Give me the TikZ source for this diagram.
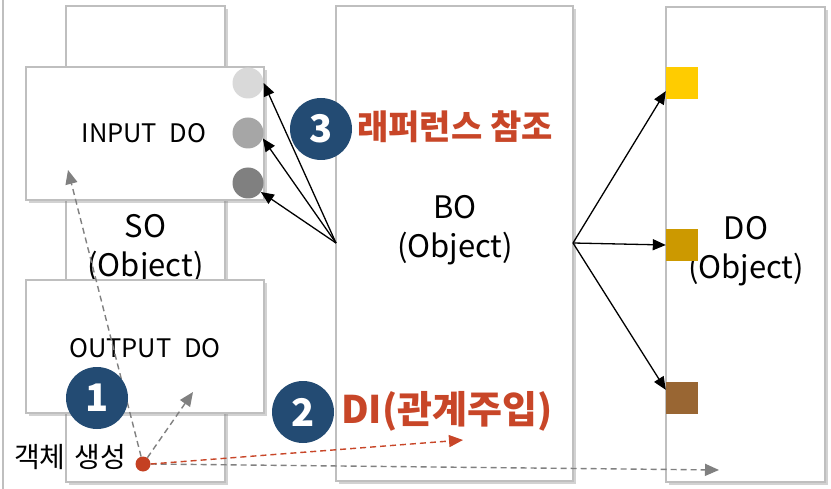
\documentclass[tikz,border=0pt]{standalone}
\usepackage{fontspec}
\setmainfont{Noto Sans CJK KR}
\usetikzlibrary{shadows,arrows.meta,calc}
\definecolor{boxline}{RGB}{191,191,191}
\definecolor{badgeblue}{RGB}{35,75,115}
\definecolor{accentred}{RGB}{200,70,40}
\definecolor{dotred}{RGB}{196,64,34}
\definecolor{dashgray}{RGB}{128,128,128}
\definecolor{portA}{RGB}{217,217,217}
\definecolor{portB}{RGB}{166,166,166}
\definecolor{portC}{RGB}{128,128,128}
\definecolor{sqA}{RGB}{255,204,0}
\definecolor{sqB}{RGB}{204,153,0}
\definecolor{sqC}{RGB}{153,102,51}
\tikzset{
  objbox/.style={draw=boxline, line width=2bp, fill=white,
    drop shadow={opacity=0.35, shadow xshift=3bp, shadow yshift=-3bp}},
  port/.style={circle, inner sep=0pt, minimum size=31bp},
  slot/.style={rectangle, inner sep=0pt, minimum size=32bp},
  badge/.style={circle, fill=badgeblue, inner sep=0pt, minimum size=62bp,
    text=white, font=\fontsize{38bp}{40bp}\selectfont\bfseries},
  refarrow/.style={line width=1.3bp, -{Triangle[length=13bp,width=11bp]}},
  dasharrow/.style={dashgray, line width=1.4bp, dash pattern=on 6bp off 4bp,
    -{Triangle[length=14bp,width=12bp]}},
  reddash/.style={accentred, line width=1.4bp, dash pattern=on 6bp off 4bp,
    -{Triangle[length=14bp,width=12bp]}},
  lbl/.style={font=\fontsize{25.5bp}{30bp}\selectfont},
  biglbl/.style={font=\fontsize{31bp}{39bp}\selectfont, align=center},
  redlbl/.style={text=accentred, font=\fontsize{34bp}{36bp}\selectfont\bfseries},
}
\begin{document}
\begin{tikzpicture}[x=1bp,y=-1bp]
\useasboundingbox (0,0) rectangle (831,489);
\fill[white] (0,0) rectangle (831,489);
% left margin line
\draw[boxline, line width=2bp] (3,0) -- (3,489);

% SO column with its two data objects
\filldraw[objbox] (66,6) rectangle (225,482);
\node[biglbl] (so) at (145.5,249) {SO\\(Object)};
\filldraw[objbox] (26,67) rectangle (264,200);
\node[lbl] (indo) at (144,133) {INPUT\enspace DO};
\filldraw[objbox] (26,280) rectangle (264,413);
\node[lbl] (outdo) at (145,348) {OUTPUT\enspace DO};

% BO column
\filldraw[objbox] (336,6) rectangle (573,481);
\node[biglbl] (bo) at (455,230) {BO\\(Object)};

% DO column
\filldraw[objbox] (666,7) rectangle (825,482);
\node[biglbl] (do) at (746,251) {DO\\(Object)};

% ports of INPUT DO
\node[port, fill=portA] (c1) at (248,83) {};
\node[port, fill=portB] (c2) at (248,133) {};
\node[port, fill=portC] (c3) at (248,183) {};

% slots of DO
\node[slot, fill=sqA] (s1) at (682,83) {};
\node[slot, fill=sqB] (s2) at (682,245) {};
\node[slot, fill=sqC] (s3) at (682,398) {};

% references from BO
\coordinate (bol) at (336,243);
\coordinate (bor) at (573,243);
\draw[refarrow] (bol) -- (c1.east);
\draw[refarrow] (bol) -- (c2.-20);
\draw[refarrow] (bol) -- (c3.-35);
\draw[refarrow] (bor) -- ($(s1.west)!0.5!(s1.south west)$);
\draw[refarrow] (bor) -- (s2.west);
\draw[refarrow] (bor) -- ($(s3.west)!0.5!(s3.north west)$);

% object creation
\node[font=\fontsize{28bp}{30bp}\selectfont, anchor=west, inner sep=0pt] (create) at (14,457) {객체\hspace{9bp}생성};
\node[circle, fill=dotred, inner sep=0pt, minimum size=15bp] (dot) at (143,464) {};
\coordinate (tinput) at (68,170);
\coordinate (toutput) at (193,392);
\coordinate (tdo) at (719,470);
\coordinate (tdi) at (463,440);
\draw[dasharrow] (dot) -- (tinput);
\draw[dasharrow] (dot) -- (toutput);
\draw[dasharrow] (dot.east) -- (tdo);
\draw[reddash] (dot.east) -- (tdi);

% numbered steps
\node[badge] (b1) at (97,398) {1};
\node[badge] (b2) at (303,412) {2};
\node[badge] (b3) at (321,129) {3};
\node[redlbl, font=\fontsize{38bp}{40bp}\selectfont\bfseries, anchor=west, inner sep=0pt] (di) at (341,411) {DI(관계주입)};
\node[redlbl, anchor=west, inner sep=0pt] (ref) at (357,127) {래퍼런스 참조};
\end{tikzpicture}
\end{document}
